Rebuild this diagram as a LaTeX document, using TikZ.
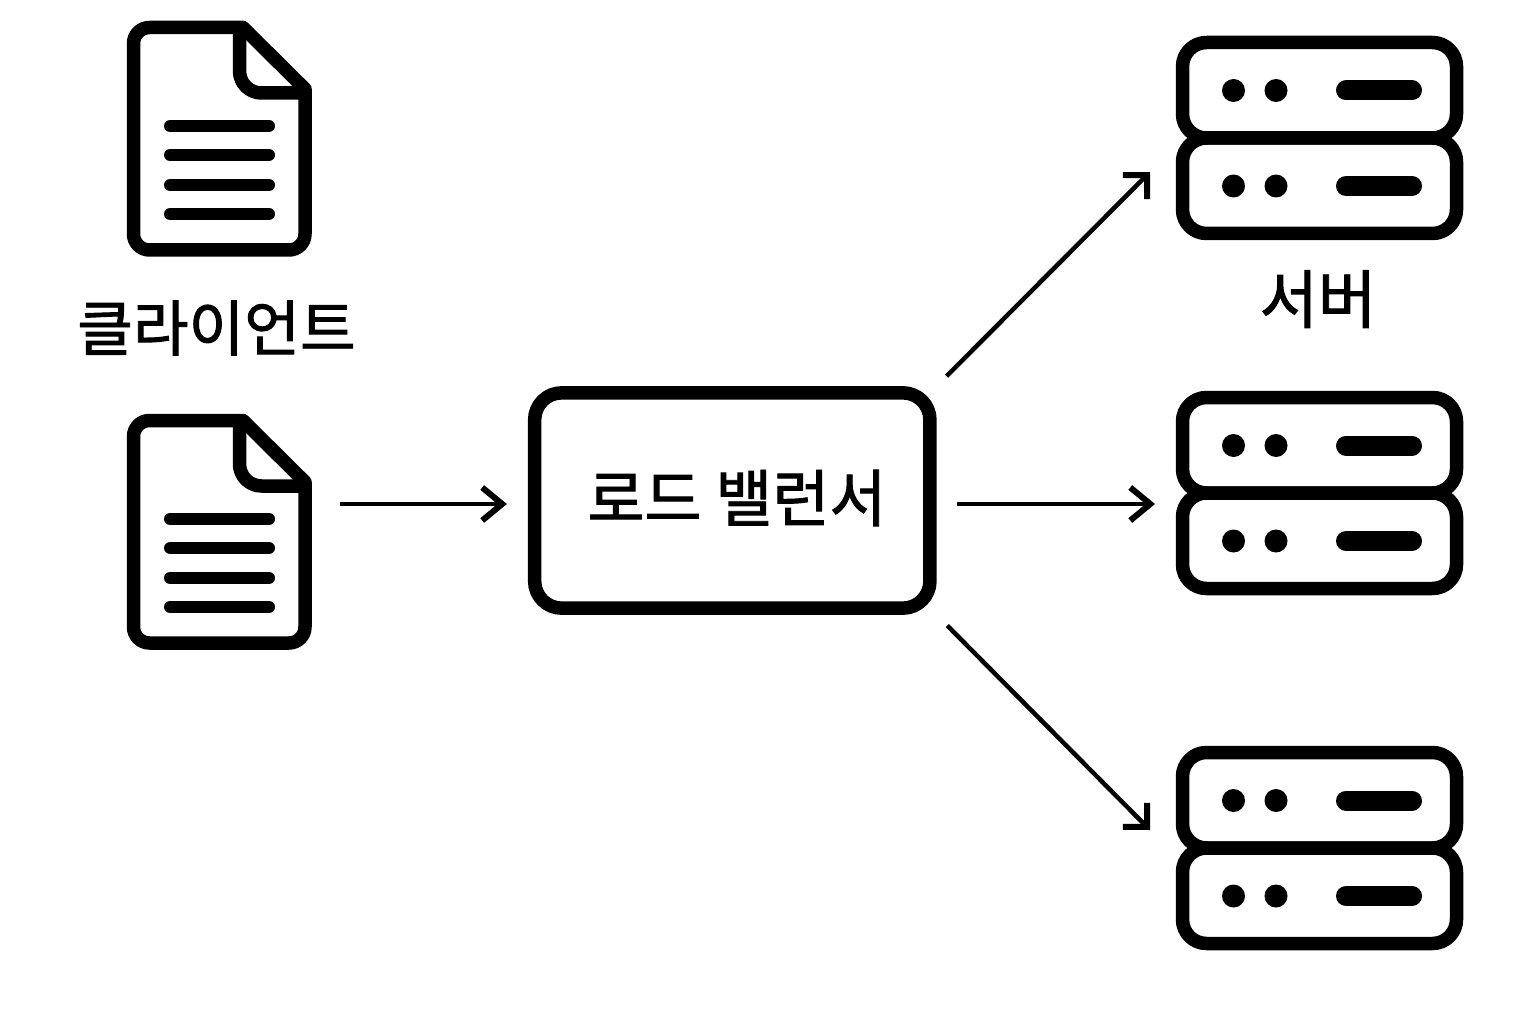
\documentclass[tikz,border=0pt]{standalone}
\usepackage{fontspec}
\setmainfont{Noto Sans CJK KR}
\newfontfamily\hangulfont{Noto Sans CJK KR}[FakeBold=1.5]
\usetikzlibrary{arrows.meta}
\tikzset{
iconline/.style={line width=13.5pt, line join=round},
docline/.style={line width=12pt, line cap=round},
srvbar/.style={line width=20pt, line cap=round},
flow/.style={line width=4.5pt, -{Straight Barb[length=20pt,width=33pt,line width=6pt]}},
flowdiag/.style={line width=4.5pt, -{Straight Barb[length=17pt,width=34pt,line width=6pt]}},
hangul/.style={inner sep=0pt, font=\hangulfont\fontsize{#1}{#1}\selectfont},
}
\begin{document}
\begin{tikzpicture}[x=1pt,y=-1pt]
\useasboundingbox (0,0) rectangle (1536,1024);

\foreach \dy in {0,393}{
\begin{scope}[shift={(0,\dy)}]
\draw[iconline] (243,27.5) -- (305,89) -- (305,234) arc (0:90:16) -- (149.5,250) arc (90:180:16) -- (133.5,43.5) arc (180:270:16) -- cycle;
\draw[iconline] (239.5,27.5) [rounded corners=22pt] -- (239.5,93) -- (305,93);
\foreach \ly in {126,155,185,214}
\draw[docline] (170,\ly) -- (269,\ly);
\end{scope}
}

\foreach \dy in {0,355,710}{
\begin{scope}[shift={(0,\dy)}]
\draw[iconline, rounded corners=24pt] (1182.5,42.5) rectangle (1456.5,138);
\draw[iconline, rounded corners=24pt] (1182.5,138) rectangle (1456.5,233.5);
\foreach \ly in {90.5,186}{
\fill (1233.5,\ly) circle (11.5);
\fill (1276,\ly) circle (11.5);
\draw[srvbar] (1346,\ly) -- (1412,\ly);
}
\end{scope}
}

\node[hangul=60.5pt] (client) at (216.5,328) {클라이언트};
\node[hangul=63.5pt] (server) at (1318,299) {서버};
\node[draw, iconline, rounded corners=27pt, minimum width=395.3pt, minimum height=215.3pt] (lb) at (732.3,500.5) {};
\node[hangul=62pt] (lblabel) at (737,498) {로드 밸런서};

\coordinate (clOut) at (340,504);
\coordinate (srvInA) at (1150,172);
\coordinate (srvInB) at (1155,504);
\coordinate (srvInC) at (1150,830);

\draw[flow, shorten >=21pt] (clOut) -- ([yshift=-3.5pt]lb.west);
\draw[flowdiag, shorten <=14pt] (lb.north east) -- (srvInA);
\draw[flow, shorten <=20pt] ([yshift=-3.5pt]lb.east) -- (srvInB);
\draw[flowdiag, shorten <=15pt] (lb.south east) -- (srvInC);
\end{tikzpicture}
\end{document}
